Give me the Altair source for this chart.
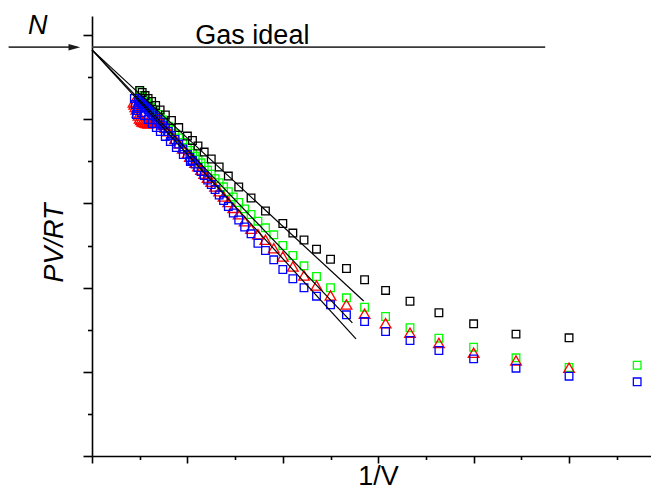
import altair as alt
import pandas as pd

# ---------------- data (arbitrary units: x = 1/V, y = PV/RT) ----------------
inv_v = [5.714, 5.000, 4.444, 4.000, 3.636, 3.333, 3.077, 2.857, 2.667, 2.500,
         2.353, 2.222, 2.105, 2.000, 1.905, 1.818, 1.739, 1.667, 1.600, 1.538,
         1.481, 1.429, 1.379, 1.333, 1.290, 1.250, 1.212, 1.176, 1.143, 1.111,
         1.081, 1.053, 1.026, 1.000, 0.952, 0.909, 0.870, 0.833, 0.800, 0.769,
         0.741, 0.714, 0.690, 0.667, 0.645, 0.625, 0.606, 0.588, 0.571, 0.556,
         0.541, 0.526, 0.513, 0.500]

black = [None, 1.404, 1.447, 1.570, 1.701, 1.838, 1.966, 2.093, 2.227, 2.337,
         2.456, 2.565, 2.648, 2.761, None, 2.910, None, 3.064, None, 3.195,
         None, 3.325, None, 3.432, None, 3.527, None, 3.610, None, 3.682,
         None, 3.747, None, 3.800, None, 3.901, None, 3.985, None, 4.050,
         None, 4.109, None, 4.163, None, 4.210, None, 4.246, None, 4.281,
         None, 4.317, None, 4.341]

green = [1.078, 1.051, 1.166, 1.292, 1.399, 1.523, 1.657, 1.767, 1.879, 1.998,
         2.132, 2.259, 2.381, 2.500, 2.627, 2.710, 2.789, 2.868, 2.935, 3.011,
         3.077, 3.139, 3.197, 3.245, 3.294, 3.347, 3.394, 3.439, 3.482, 3.521,
         3.560, 3.596, 3.629, 3.663, 3.723, 3.778, 3.828, 3.874, 3.917, 3.955,
         3.992, 4.026, 4.057, 4.087, 4.114, 4.140, 4.164, 4.186, 4.208, 4.228,
         4.246, 4.265, 4.283, 4.340]

red = [None, 1.048, 1.134, 1.226, 1.342, 1.463, 1.577, 1.689, 1.799, 1.906,
       2.025, 2.144, 2.251, 2.369, 2.468, 2.568, 2.634, 2.698, 2.789, 2.871,
       2.947, 3.017, 3.082, 3.144, 3.202, 3.257, 3.306, 3.354, 3.399, 3.441,
       3.482, 3.519, 3.555, 3.589, 3.654, 3.711, 3.764, 3.812, 3.857, 3.898,
       3.936, 3.973, 4.002, 3.990, 3.973, 3.961, 3.955, 3.949, 3.955, 3.961,
       3.967, 3.973, 3.990, 4.008]

blue = [0.881, 0.948, 1.043, 1.154, 1.253, 1.372, 1.479, 1.597, 1.677, 1.796,
        1.898, 1.998, 2.105, 2.215, 2.330, 2.441, 2.527, 2.639, 2.720, 2.803,
        2.886, 2.963, 3.034, 3.100, 3.165, 3.224, 3.278, 3.331, 3.379, 3.426,
        3.468, 3.510, 3.545, 3.581, 3.646, 3.705, 3.759, 3.806, 3.854, 3.895,
        3.931, 3.967, 3.996, 4.026, 4.050, 4.074, 4.097, 4.115, 4.133, 4.151,
        4.169, 4.186, 4.204, 4.216]

red_tail_x = [0.488, 0.476, 0.465, 0.455, 0.444, 0.435]
red_tail_y = [4.044, 4.080, 4.115, 4.145, 4.175, 4.198]
blue_tail_x = [0.488, 0.476, 0.465, 0.455, 0.444]
blue_tail_y = [4.228, 4.103, 4.056, 4.175, 4.246]
blue_low_x = [0.485, 0.517, 0.548, 0.590, 0.632, 0.674, 0.716, 0.768, 0.821,
              0.884, 0.957, 1.031]
blue_low_y = [4.127, 4.080, 4.044, 3.996, 3.949, 3.901, 3.854, 3.795, 3.735,
              3.664, 3.581, 3.498]

# straight-line fits (common intercept on the PV/RT axis)
fit_x0 = 0.0
fit_y0 = 4.824
fit_end_x = [2.847, 2.729, 2.767]
fit_end_y = [1.841, 1.582, 1.392]

# ideal gas level and annotations
ideal_y = 4.855
ideal_x_end = 4.75
arrow_x = [-0.874, -0.16]
arrow_head_x = -0.1845
label_n = {"x": -0.568, "y": 5.014, "t": "N"}
label_gas = {"x": 1.083, "y": 4.896, "t": "Gas ideal"}

x_ticks = [0, 0.5, 1, 1.5, 2, 2.5, 3, 3.5, 4, 4.5, 5, 5.5]
y_ticks = [0, 0.5, 1, 1.5, 2, 2.5, 3, 3.5, 4, 4.5, 5]

FONT = "Arial, Liberation Sans, sans-serif"

# ---------------- tables ----------------
def series_df(xs, ys):
    return pd.DataFrame([{"x": a, "y": b} for a, b in zip(xs, ys) if b is not None])

df_black = series_df(inv_v, black)
df_green = series_df(inv_v, green)
df_red = pd.concat([series_df(inv_v, red), series_df(red_tail_x, red_tail_y)])
df_blue = pd.concat([series_df(inv_v, blue), series_df(blue_tail_x, blue_tail_y),
                     series_df(blue_low_x, blue_low_y)])

df_fit = pd.DataFrame({"x": [fit_x0] * 3, "y": [fit_y0] * 3,
                       "x2": fit_end_x, "y2": fit_end_y})
df_ideal = pd.DataFrame({"x": [0.0], "x2": [ideal_x_end], "y": [ideal_y]})
df_arrow = pd.DataFrame({"x": [arrow_x[0]], "x2": [arrow_x[1]], "y": [ideal_y]})
df_head = pd.DataFrame({"x": [arrow_head_x], "y": [ideal_y]})
df_n = pd.DataFrame([label_n])
df_gas = pd.DataFrame([label_gas])

# ---------------- scales / axes ----------------
xscale = alt.Scale(domain=[0, 5.859], nice=False, zero=False)
yscale = alt.Scale(domain=[0, 5.2257], nice=False, zero=False)

xaxis = alt.Axis(values=x_ticks, labels=False, grid=False,
                 domainColor="black", domainWidth=1.6,
                 tickColor="black", tickWidth=1.6,
                 tickSize={"condition": {"test": "datum.value % 1 === 0", "value": 7},
                           "value": 3.5},
                 title="1/V", titleFont=FONT, titleFontSize=27,
                 titleFontWeight="normal", titleColor="black",
                 titleX=286, titleY=28, titleAlign="center",
                 titleBaseline="alphabetic")
yaxis = alt.Axis(values=y_ticks, labels=False, grid=False,
                 domainColor="black", domainWidth=1.6,
                 tickColor="black", tickWidth=1.6,
                 tickSize={"condition": {"test": "datum.value % 1 === 0", "value": 9},
                           "value": 4.5},
                 title="PV/RT", titleFont=FONT, titleFontSize=27,
                 titleFontWeight="normal", titleFontStyle="italic",
                 titleColor="black", titleAngle=270,
                 titleX=-29.7, titleY=226.5, titleAlign="center",
                 titleBaseline="alphabetic")

X = alt.X("x:Q", scale=xscale, axis=xaxis)
Y = alt.Y("y:Q", scale=yscale, axis=yaxis)


def pts(df, color, shape, size):
    return alt.Chart(df).mark_point(shape=shape, filled=False, color=color,
                                    size=size, strokeWidth=1.3, opacity=1).encode(x=X, y=Y)


layers = [
    alt.Chart(df_ideal).mark_rule(color="#3a3a3a", strokeWidth=1.8).encode(
        x=X, x2="x2:Q", y=Y),
    alt.Chart(df_arrow).mark_rule(color="#3a3a3a", strokeWidth=1.8).encode(
        x=X, x2="x2:Q", y=Y),
    alt.Chart(df_head).mark_point(shape="M-1,-0.55L1,0L-1,0.55Z", filled=True,
                                  color="#1a1a1a", size=140, opacity=1).encode(x=X, y=Y),
    pts(df_green, "#00ff00", "square", 58),
    pts(df_black, "#000000", "square", 58),
    pts(df_red, "#ff0000", "triangle-up", 115),
    pts(df_blue, "#0000ff", "square", 58),
    alt.Chart(df_fit).mark_rule(color="black", strokeWidth=1.2).encode(
        x=X, y=Y, x2="x2:Q", y2="y2:Q"),
    alt.Chart(df_n).mark_text(font=FONT, fontSize=27, fontStyle="italic",
                              align="center", baseline="alphabetic",
                              color="black").encode(x=X, y=Y, text="t:N"),
    alt.Chart(df_gas).mark_text(font=FONT, fontSize=27, align="left",
                                baseline="alphabetic",
                                color="black").encode(x=X, y=Y, text="t:N"),
]

chart = alt.layer(*layers).properties(
    width=559, height=440,
    autosize=alt.AutoSizeParams(type="none"),
    padding={"left": 84, "top": 8, "right": 0, "bottom": 34},
    background="white",
).configure_view(stroke=None)

chart.save("out.html", embed_options={"renderer": "svg", "actions": False})
